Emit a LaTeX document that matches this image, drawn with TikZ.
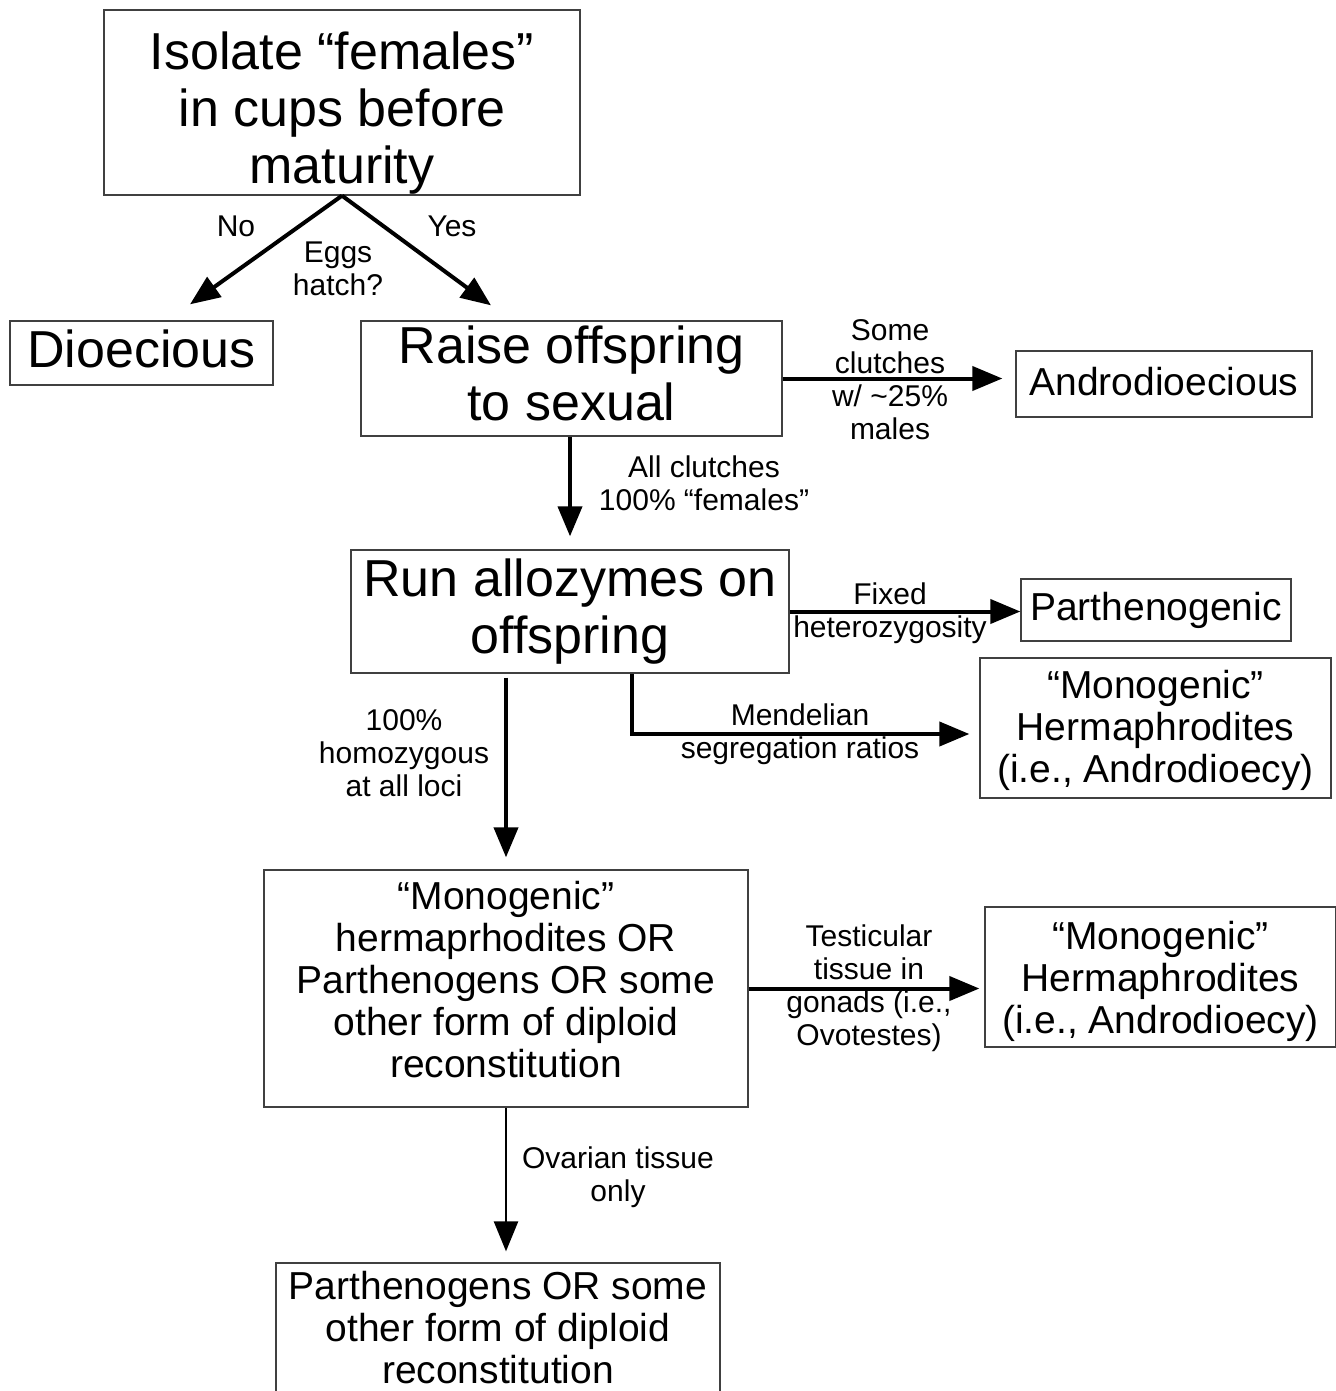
\documentclass[tikz,border=0pt]{standalone}
\usepackage{fontspec}
\setmainfont{Liberation Sans}
\usetikzlibrary{arrows.meta}

\begin{document}
\begin{tikzpicture}[x=1pt, y=-1pt,
  box/.style={draw=black!75, line width=1.3pt, inner sep=0pt},
  big/.style={align=center, inner sep=0pt, font=\fontsize{52}{57}\selectfont},
  mid/.style={align=center, inner sep=0pt, font=\fontsize{39}{42}\selectfont},
  lbl/.style={align=center, inner sep=0pt, font=\fontsize{30}{33}\selectfont},
  arr/.style={line width=4pt, -{Triangle[length=30pt, width=24pt]}}]

\useasboundingbox (0,0) rectangle (1335,1391);

% boxes
\node[box, minimum width=476pt, minimum height=185pt] (isolate) at (342, 102.5) {};
\node[box, minimum width=263pt, minimum height=64pt] (dioecious) at (141.5, 353) {};
\node[box, minimum width=421pt, minimum height=115pt] (raise) at (571.5, 378.5) {};
\node[box, minimum width=296pt, minimum height=66pt] (androdio) at (1164, 384) {};
\node[box, minimum width=438pt, minimum height=123pt] (runallo) at (570, 611.5) {};
\node[box, minimum width=270pt, minimum height=62pt] (partheno) at (1156, 610) {};
\node[box, minimum width=351pt, minimum height=140pt] (monoA) at (1155.5, 728) {};
\node[box, minimum width=484pt, minimum height=237pt] (herm) at (506, 988.5) {};
\node[box, minimum width=351pt, minimum height=140pt] (monoB) at (1160.5, 977) {};
\node[box, minimum width=444pt, minimum height=137pt] (final) at (498, 1331.5) {};

% box texts
\node[big] (isolatetxt) at ([yshift=-10.5pt]isolate.center) {Isolate “females”\\in cups before\\maturity};
\node[big] (dioecioustxt) at ([yshift=4pt]dioecious.center) {Dioecious};
\node[big] (raisetxt) at ([yshift=5.5pt]raise.center) {Raise offspring\\to sexual};
\node[mid] (androdiotxt) at ([yshift=2pt]androdio.center) {Androdioecious};
\node[big] (runallotxt) at (runallo.center) {Run allozymes on\\offspring};
\node[mid] (parthenotxt) at (partheno.center) {Parthenogenic};
\node[mid] (monoAtxt) at ([yshift=-2.5pt]monoA.center) {“Monogenic”\\Hermaphrodites\\(i.e., Androdioecy)};
\node[mid] (hermtxt) at ([yshift=8.5pt]herm.center) {“Monogenic”\\hermaprhodites OR\\Parthenogens OR some\\other form of diploid\\reconstitution};
\node[mid] (monoBtxt) at ([yshift=-4pt]monoB.center) {“Monogenic”\\Hermaphrodites\\(i.e., Androdioecy)};
\node[mid] (finaltxt) at ([yshift=3.5pt]final.center) {Parthenogens OR some\\other form of diploid\\reconstitution};

% arrows
\draw[arr] (isolate.south) -- ([xshift=48.5pt, yshift=16pt]dioecious.north); %no
\draw[arr] (isolate.south) -- ([xshift=-80.5pt, yshift=15pt]raise.north); %yes
\draw[arr, shorten >=13pt] (raise.east) -- (androdio.west |- raise.east); %some clutches
\draw[arr, shorten >=13pt] (raise.south -| runallo.north) -- (runallo.north); %all clutches
\draw[arr] (runallo.east) -- (partheno.west |- runallo.east); %fixed
\draw[arr, shorten >=10pt] ([xshift=62pt]runallo.south) |- ([yshift=-6pt]monoA.west); %mendelian
\draw[arr, shorten >=12pt] ([yshift=-4pt]runallo.south -| herm.north) -- (herm.north); %homozygous
\draw[arr, shorten >=5pt] (herm.east) -- (monoB.west |- herm.east); %testicular
\draw[arr, line width=2.5pt, shorten >=11pt] (herm.south) -- (herm.south |- final.north); %ovarian

% labels
\node[lbl] (no) at (236, 226) {No};
\node[lbl] (yes) at (452, 226) {Yes};
\node[lbl] (hatch) at (338, 268.5) {Eggs\\hatch?};
\node[lbl] (some) at (890, 380) {Some\\clutches\\w/ \textasciitilde25\%\\males};
\node[lbl] (allcl) at (704, 483) {All clutches\\100\% “females”};
\node[lbl] (fixed) at (890, 613.5) {Fixed\\heterozygosity};
\node[lbl] (mendel) at (800, 734) {Mendelian\\segregation ratios};
\node[lbl] (homoz) at (404, 753) {100\%\\homozygous\\at all loci};
\node[lbl] (testic) at (869, 988) {Testicular\\tissue in\\gonads (i.e.,\\Ovotestes)};
\node[lbl] (ovar) at (618, 1177.5) {Ovarian tissue\\only};

\end{tikzpicture}
\end{document}
